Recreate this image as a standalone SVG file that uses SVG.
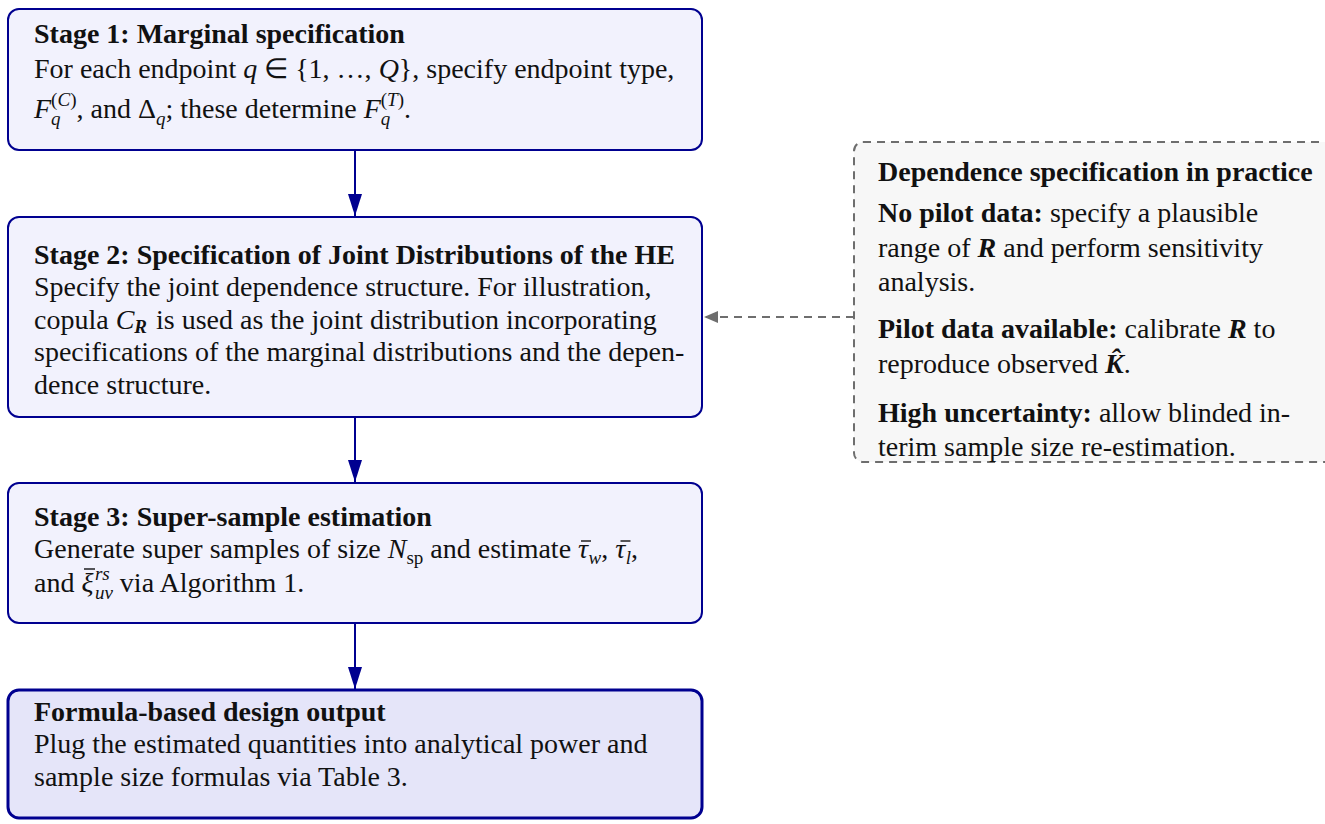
<svg xmlns="http://www.w3.org/2000/svg" width="1325" height="824" viewBox="0 0 1325 824">
<style>
text{font-family:"Liberation Serif","Times New Roman",serif;font-size:28px;fill:#111}
.b{font-weight:bold}
.i{font-style:italic}
.bi{font-weight:bold;font-style:italic}
.s{font-size:19px}
.stage{fill:#f2f2fd;stroke:#000090;stroke-width:2}
.out{fill:#e5e5f9;stroke:#000090;stroke-width:3}
.note{fill:#f7f7f7;stroke:#6e6e6e;stroke-width:2;stroke-dasharray:8 6}
.flow{stroke:#000090;stroke-width:2;fill:none}
.dash{stroke:#6e6e6e;stroke-width:2;fill:none;stroke-dasharray:8 6}
.bar{stroke:#111;stroke-width:1.4}
</style>
<defs>
<marker id="ah" markerWidth="22" markerHeight="14" refX="22" refY="7" orient="auto" markerUnits="userSpaceOnUse">
<path d="M0,0 L22,7 L0,14 Z" fill="#000090"/>
</marker>
<marker id="ahg" markerWidth="14" markerHeight="12" refX="14" refY="6" orient="auto" markerUnits="userSpaceOnUse">
<path d="M0,0 L14,6 L0,12 Z" fill="#6e6e6e"/>
</marker>
</defs>

<g id="connectors">
<line class="flow" x1="355" y1="151" x2="355" y2="216" marker-end="url(#ah)"/>
<line class="flow" x1="355" y1="418" x2="355" y2="482" marker-end="url(#ah)"/>
<line class="flow" x1="355" y1="624" x2="355" y2="689" marker-end="url(#ah)"/>
<line class="dash" x1="854" y1="317" x2="704" y2="317" marker-end="url(#ahg)"/>
</g>

<g id="stage1">
<rect class="stage" x="8" y="9" width="694" height="141" rx="11"/>
<text x="34" y="43" class="b">Stage 1: Marginal specification</text>
<text x="34" y="78">For each endpoint <tspan class="i">q</tspan> ∈ {1, …, <tspan class="i">Q</tspan>}, specify endpoint type,</text>
<text x="34" y="118"><tspan class="i">F</tspan><tspan class="s i" dy="7">q</tspan><tspan class="s" dx="-9.5" dy="-19">(<tspan class="i">C</tspan>)</tspan><tspan dy="12">, and Δ</tspan><tspan class="s i" dy="7">q</tspan><tspan dy="-7">; these determine </tspan><tspan class="i">F</tspan><tspan class="s i" dy="7">q</tspan><tspan class="s" dx="-9.5" dy="-19">(<tspan class="i">T</tspan>)</tspan><tspan dy="12">.</tspan></text>
</g>

<g id="stage2">
<rect class="stage" x="8" y="217" width="694" height="200" rx="11"/>
<text x="34" y="264" class="b">Stage 2: Specification of Joint Distributions of the HE</text>
<text x="34" y="296">Specify the joint dependence structure. For illustration,</text>
<text x="34" y="329">copula <tspan class="i">C</tspan><tspan class="s bi" dy="4">R</tspan><tspan dx="2" dy="-4"> is used as the joint distribution incorporating</tspan></text>
<text x="34" y="361">specifications of the marginal distributions and the depen-</text>
<text x="34" y="394">dence structure.</text>
</g>

<g id="stage3">
<rect class="stage" x="8" y="483" width="694" height="140" rx="11"/>
<text x="34" y="526" class="b">Stage 3: Super-sample estimation</text>
<text x="34" y="558">Generate super samples of size <tspan class="i">N</tspan><tspan class="s" dy="6">sp</tspan><tspan dy="-6"> and estimate </tspan><tspan class="i">τ</tspan><tspan class="s i" dx="0.5" dy="6">w</tspan><tspan dy="-6">, </tspan><tspan class="i">τ</tspan><tspan class="s i" dx="0.5" dy="6">l</tspan><tspan dy="-6">,</tspan></text>
<text x="34" y="592">and <tspan class="i">ξ</tspan><tspan class="s i" dx="1.5" dy="-12">rs</tspan><tspan class="s i" dx="-14.8" dy="19">uv</tspan><tspan dy="-7"> via Algorithm 1.</tspan></text>
<line class="bar" x1="581" y1="541" x2="591" y2="541"/>
<line class="bar" x1="620.5" y1="541" x2="630.5" y2="541"/>
<line class="bar" x1="84" y1="569" x2="95" y2="569"/>
</g>

<g id="output">
<rect class="out" x="8" y="690" width="694" height="128" rx="11"/>
<text x="34" y="721" class="b">Formula-based design output</text>
<text x="34" y="753">Plug the estimated quantities into analytical power and</text>
<text x="34" y="786">sample size formulas via Table 3.</text>
</g>

<g id="practice">
<rect class="note" x="854" y="142" width="500" height="320" rx="9"/>
<text x="878" y="181" class="b">Dependence specification in practice</text>
<text x="878" y="222"><tspan class="b">No pilot data:</tspan> specify a plausible</text>
<text x="878" y="257">range of <tspan class="bi">R</tspan> and perform sensitivity</text>
<text x="878" y="291">analysis.</text>
<text x="878" y="338"><tspan class="b">Pilot data available:</tspan> calibrate <tspan class="bi">R</tspan> to</text>
<text x="878" y="373">reproduce observed <tspan class="bi">K̂</tspan>.</text>
<text x="878" y="422"><tspan class="b">High uncertainty:</tspan> allow blinded in-</text>
<text x="878" y="456">terim sample size re-estimation.</text>
</g>
</svg>
